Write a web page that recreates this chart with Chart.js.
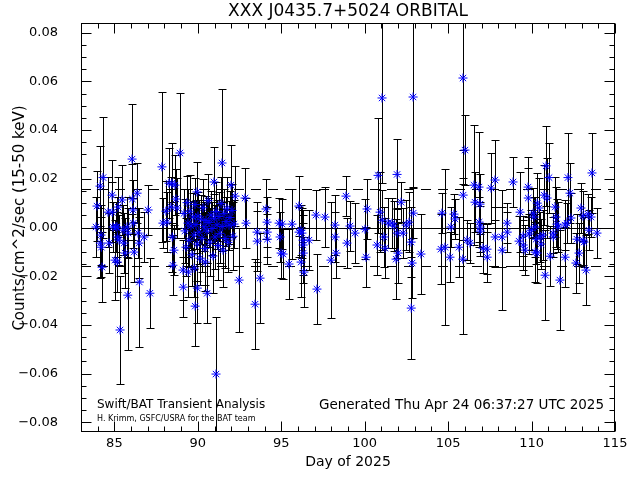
<!DOCTYPE html>
<html>
<head>
<meta charset="utf-8">
<title>XXX J0435.7+5024 ORBITAL</title>
<script src="https://cdn.jsdelivr.net/npm/chart.js@4.4.1/dist/chart.umd.min.js"></script>
<style>
  html, body { margin: 0; padding: 0; background: #fff; }
  #chart { display: block; }
</style>
</head>
<body>
<canvas id="chart" width="640" height="480"></canvas>
<script>
// ===== Swift/BAT orbital light curve =====

// Data (day of 2025, rate in counts/cm^2/sec, 1-sigma error)
const days = [
  83.90, 83.96, 84.14, 84.16, 84.20, 84.22, 84.26, 84.32, 84.62, 84.68,
  84.86, 84.88, 84.92, 85.04, 85.10, 85.16, 85.18, 85.17, 85.22, 85.28,
  85.34, 85.46, 85.52, 85.58, 85.64, 85.76, 85.82, 85.80, 86.06, 86.08,
  86.12, 86.14, 86.18, 86.36, 86.42, 86.48, 86.50, 86.78, 87.02, 87.13,
  87.85, 87.91, 88.09, 88.15, 88.27, 88.39, 88.45, 88.47, 88.51, 88.57,
  88.63, 88.69, 88.75, 88.93,
  89.11, 89.13, 89.17, 89.23, 89.29, 89.35, 89.41, 89.43, 89.47, 89.53,
  89.59, 89.65, 89.71, 89.77, 89.78, 89.83, 89.84, 89.89, 89.95, 89.96,
  89.97, 90.01, 90.07, 90.13, 90.19, 90.25, 90.31, 90.37, 90.43, 90.44,
  90.49, 90.55, 90.56, 90.61, 90.67, 90.73, 90.79, 90.85, 90.91, 90.97,
  90.98, 91.03, 91.09, 91.10, 91.15, 91.21, 91.27, 91.33, 91.39, 91.45,
  91.46, 91.51, 91.57, 91.63, 91.69, 91.75, 91.81, 91.87, 91.93, 91.99,
  92.05, 92.11, 92.17, 92.23, 92.47, 92.83, 92.89,
  93.43, 93.55, 93.56, 93.73, 94.09, 94.15, 94.16, 94.17, 94.87, 94.93,
  95.05, 94.99, 95.11, 95.46, 95.64, 96.06, 96.07, 96.18, 96.24, 96.30,
  96.31, 96.32, 96.19, 96.36, 96.66, 97.08, 97.14, 97.62, 97.98, 98.22,
  98.23, 98.28, 98.88, 98.94, 99.12, 99.42, 100.02, 100.14, 100.08, 100.74,
  100.80, 100.92, 101.04, 101.05, 101.16, 101.22, 101.40, 101.64, 101.76, 101.94,
  101.95, 101.88, 102.00, 102.18, 102.30, 102.48, 102.66, 102.78, 102.79, 102.84,
  102.90, 102.91, 103.37,
  104.57, 104.63, 104.81, 105.11, 105.17, 105.35, 105.41, 105.65, 105.89, 105.90,
  105.88, 106.01, 106.13, 106.31, 106.55, 106.61, 106.85, 106.91, 106.86, 106.92,
  106.93, 107.09, 107.33, 107.34, 107.57, 107.81, 107.82, 108.23, 108.24, 108.53,
  108.54, 108.89, 109.25, 109.31, 109.49, 109.50, 109.61, 109.79, 109.80, 109.85,
  109.97, 110.09, 110.15, 110.21, 110.27, 110.22, 110.33, 110.34, 110.45, 110.51,
  110.57, 110.69, 110.75, 110.87, 111.05, 110.93, 110.81, 111.11, 111.29, 111.30,
  111.41, 111.46, 111.52, 111.58, 111.70, 112.00, 112.01, 112.12, 112.18, 112.30,
  112.36, 112.66, 112.72, 112.84, 112.96, 113.08, 113.09, 113.14, 113.26, 113.38,
  113.44, 113.56, 113.62, 113.92
];
const rates = [
  0.0002, 0.0088, 0.0170, -0.0064, -0.0031, -0.0081, -0.0163, 0.0205, 0.0063, -0.0064,
  0.0133, 0.0063, 0.0002, -0.0134, 0.0002, 0.0002, -0.0039, -0.0142, 0.0084, -0.0052,
  -0.0421, 0.0113, -0.0011, -0.0064, -0.0105, 0.0002, -0.0023, -0.0278, 0.0281, 0.0117,
  0.0072, 0.0018, -0.0101, 0.0141, -0.0023, -0.0064, -0.0224, -0.0039, 0.0072, -0.0270,
  0.0249, 0.0018, 0.0067, 0.0022, 0.0182, 0.0084, 0.0182, -0.0039, -0.0155, -0.0093,
  0.0174, 0.0117, 0.0080, 0.0306,
  -0.0175, -0.0245, 0.0058, -0.0014, -0.0081, 0.0102, 0.0018, -0.0183, -0.0052, 0.0067,
  0.0006, -0.0112, 0.0043, -0.0031, -0.0167, 0.0094, -0.0323, 0.0012, 0.0146, -0.0068,
  -0.0249, 0.0047, -0.0019, -0.0126, 0.0034, -0.0044, 0.0081, 0.0003, -0.0086, -0.0142,
  0.0029, -0.0015, -0.0270, 0.0110, 0.0021, -0.0060, 0.0051, -0.0004, -0.0117, 0.0187,
  0.0036, -0.0039, -0.0602, 0.0066, 0.0011, -0.0074, 0.0045, -0.0024, 0.0098, 0.0265,
  0.0004, -0.0093, 0.0057, -0.0045, 0.0025, 0.0079, -0.0061, 0.0009, 0.0041, 0.0174,
  0.0070, -0.0036, 0.0014, 0.0129, -0.0216, 0.0121, 0.0018,
  -0.0315, -0.0019, -0.0056, -0.0208, 0.0076, 0.0022, -0.0019, -0.0048, 0.0018, -0.0039,
  0.0014, -0.0105, -0.0109, -0.0150, 0.0014, 0.0088, -0.0019, -0.0011, -0.0023, -0.0052,
  -0.0072, -0.0105, -0.0142, -0.0183, -0.0052, 0.0051, -0.0253, 0.0043, -0.0134, 0.0010,
  -0.0039, -0.0105, 0.0129, -0.0064, 0.0006, -0.0023, -0.0007, 0.0076, -0.0122, -0.0072,
  0.0214, 0.0063, 0.0532, 0.0030, -0.0039, -0.0085, 0.0018, 0.0018, 0.0006, 0.0218,
  -0.0023, -0.0130, -0.0105, 0.0104, -0.0023, 0.0010, 0.0022, -0.0060, -0.0331, -0.0146,
  0.0536, 0.0059, -0.0109,
  -0.0089, 0.0059, -0.0081, -0.0122, 0.0002, 0.0055, 0.0035, -0.0081, 0.0614, 0.0133,
  -0.0130, 0.0318, -0.0052, -0.0064, 0.0174, 0.0104, 0.0166, 0.0096, 0.0022, 0.0002,
  -0.0015, -0.0085, -0.0089, -0.0122, 0.0162, 0.0195, -0.0039, -0.0039, -0.0093, 0.0018,
  -0.0019, 0.0187, -0.0056, 0.0063, -0.0035, -0.0072, -0.0093, 0.0166, 0.0121, -0.0027,
  -0.0011, 0.0059, 0.0043, 0.0002, -0.0048, -0.0101, -0.0105, 0.0100, 0.0080, -0.0039,
  -0.0068, -0.0031, 0.0133, 0.0253, 0.0205, 0.0121, -0.0196, -0.0118, -0.0023, -0.0039,
  0.0084, 0.0043, 0.0014, 0.0002, -0.0216, 0.0010, -0.0122, 0.0018, 0.0205, 0.0141,
  0.0039, -0.0146, -0.0048, -0.0105, 0.0080, 0.0047, -0.0052, -0.0060, -0.0175, 0.0055,
  -0.0011, 0.0043, 0.0224, -0.0023
];
const errors = [
  0.0123, 0.0144, 0.0164, 0.0144, 0.0123, 0.0123, 0.0144, 0.0247, 0.0144, 0.0123,
  0.0144, 0.0123, 0.0103, 0.0164, 0.0103, 0.0123, 0.0103, 0.0123, 0.0123, 0.0103,
  0.0220, 0.0144, 0.0103, 0.0123, 0.0144, 0.0123, 0.0103, 0.0226, 0.0226, 0.0144,
  0.0123, 0.0103, 0.0123, 0.0123, 0.0103, 0.0144, 0.0267, 0.0103, 0.0103, 0.0144,
  0.0308, 0.0103, 0.0123, 0.0123, 0.0144, 0.0123, 0.0164, 0.0144, 0.0123, 0.0103,
  0.0123, 0.0123, 0.0123, 0.0247,
  0.0123, 0.0123, 0.0100, 0.0130, 0.0120, 0.0110, 0.0140, 0.0103, 0.0110, 0.0150,
  0.0100, 0.0130, 0.0100, 0.0140, 0.0120, 0.0110, 0.0164, 0.0100, 0.0123, 0.0150,
  0.0144, 0.0100, 0.0130, 0.0110, 0.0100, 0.0140, 0.0120, 0.0100, 0.0150, 0.0120,
  0.0100, 0.0130, 0.0123, 0.0110, 0.0100, 0.0140, 0.0100, 0.0110, 0.0150, 0.0144,
  0.0100, 0.0130, 0.0235, 0.0120, 0.0100, 0.0140, 0.0100, 0.0120, 0.0110, 0.0304,
  0.0100, 0.0150, 0.0100, 0.0120, 0.0100, 0.0130, 0.0120, 0.0100, 0.0110, 0.0164,
  0.0110, 0.0140, 0.0100, 0.0123, 0.0214, 0.0123, 0.0103,
  0.0185, 0.0123, 0.0123, 0.0185, 0.0123, 0.0103, 0.0103, 0.0103, 0.0103, 0.0103,
  0.0103, 0.0103, 0.0103, 0.0144, 0.0144, 0.0123, 0.0103, 0.0103, 0.0103, 0.0123,
  0.0123, 0.0123, 0.0144, 0.0144, 0.0123, 0.0103, 0.0144, 0.0123, 0.0238, 0.0123,
  0.0103, 0.0103, 0.0082, 0.0103, 0.0103, 0.0123, 0.0123, 0.0123, 0.0123, 0.0123,
  0.0235, 0.0164, 0.0349, 0.0123, 0.0123, 0.0123, 0.0103, 0.0103, 0.0103, 0.0144,
  0.0103, 0.0164, 0.0123, 0.0082, 0.0103, 0.0103, 0.0123, 0.0144, 0.0210, 0.0144,
  0.0370, 0.0103, 0.0164,
  0.0144, 0.0082, 0.0321, 0.0103, 0.0082, 0.0082, 0.0082, 0.0123, 0.0411, 0.0185,
  0.0308, 0.0144, 0.0082, 0.0082, 0.0247, 0.0123, 0.0226, 0.0123, 0.0103, 0.0103,
  0.0103, 0.0103, 0.0103, 0.0103, 0.0144, 0.0164, 0.0123, 0.0123, 0.0247, 0.0082,
  0.0082, 0.0103, 0.0103, 0.0164, 0.0082, 0.0103, 0.0103, 0.0123, 0.0123, 0.0082,
  0.0082, 0.0103, 0.0082, 0.0123, 0.0103, 0.0123, 0.0123, 0.0123, 0.0123, 0.0103,
  0.0103, 0.0103, 0.0123, 0.0164, 0.0144, 0.0164, 0.0185, 0.0123, 0.0082, 0.0082,
  0.0123, 0.0123, 0.0103, 0.0103, 0.0206, 0.0103, 0.0123, 0.0082, 0.0185, 0.0123,
  0.0103, 0.0123, 0.0103, 0.0123, 0.0103, 0.0103, 0.0103, 0.0103, 0.0144, 0.0082,
  0.0082, 0.0082, 0.0164, 0.0103
];

// Axis ticks and reference levels
const xMajorTicks = [85, 90, 95, 100, 105, 110, 115];
const yMajorTicks = [-0.08, -0.06, -0.04, -0.02, 0.00, 0.02, 0.04, 0.06, 0.08];
const meanLevel = 0.0;
const sigmaLevels = [0.016, -0.016];

const FONT = "'DejaVu Sans', sans-serif";

// Error bars, reference lines, frame with inward ticks, text
const idlPlot = {
  id: 'idlPlot',
  beforeDatasetsDraw(chart) {
    const { ctx, chartArea: a, scales: { x, y } } = chart;
    ctx.save();
    ctx.beginPath();
    ctx.rect(a.left, a.top, a.right - a.left, a.bottom - a.top);
    ctx.clip();

    // reference lines
    ctx.strokeStyle = '#000';
    ctx.lineWidth = 1;
    const y0 = Math.round(y.getPixelForValue(meanLevel)) + 0.5;
    ctx.beginPath(); ctx.moveTo(a.left, y0); ctx.lineTo(a.right, y0); ctx.stroke();
    ctx.setLineDash([10, 7]);
    sigmaLevels.forEach(v => {
      const yy = Math.round(y.getPixelForValue(v)) + 0.5;
      ctx.beginPath(); ctx.moveTo(a.left, yy); ctx.lineTo(a.right, yy); ctx.stroke();
    });
    ctx.setLineDash([]);

    // error bars
    ctx.beginPath();
    days.forEach((d, i) => {
      const px = Math.round(x.getPixelForValue(d)) + 0.5;
      const yt = Math.round(y.getPixelForValue(rates[i] + errors[i])) + 0.5;
      const yb = Math.round(y.getPixelForValue(rates[i] - errors[i])) + 0.5;
      ctx.moveTo(px, yt); ctx.lineTo(px, yb);
      ctx.moveTo(px - 4, yt); ctx.lineTo(px + 4, yt);
      ctx.moveTo(px - 4, yb); ctx.lineTo(px + 4, yb);
    });
    ctx.stroke();
    ctx.restore();
  },
  afterDraw(chart) {
    const { ctx, chartArea: a, scales: { x, y } } = chart;
    ctx.save();
    ctx.strokeStyle = '#000';
    ctx.lineWidth = 1;
    const L = a.left + 0.5, R = a.right - 0.5, T = a.top + 0.5, B = a.bottom - 0.5;
    ctx.strokeRect(L, T, R - L, B - T);

    ctx.beginPath();
    // x ticks: majors every 5 days, minors every day
    for (let d = 84; d <= 115; d++) {
      const px = Math.round(x.getPixelForValue(d)) + 0.5;
      const len = xMajorTicks.includes(d) ? 10 : 5;
      ctx.moveTo(px, B); ctx.lineTo(px, B - len);
      ctx.moveTo(px, T); ctx.lineTo(px, T + len);
    }
    // y ticks: majors every 0.02, minors every 0.005
    for (let k = -16; k <= 16; k++) {
      const v = k * 0.005;
      const py = Math.round(y.getPixelForValue(v)) + 0.5;
      const len = k % 4 === 0 ? 10 : 5;
      ctx.moveTo(L, py); ctx.lineTo(L + len, py);
      ctx.moveTo(R, py); ctx.lineTo(R - len, py);
    }
    ctx.stroke();

    // texts
    ctx.fillStyle = '#000';
    ctx.textBaseline = 'middle';
    ctx.textAlign = 'center';
    ctx.font = '17px ' + FONT;
    ctx.fillText('XXX J0435.7+5024 ORBITAL', (a.left + a.right) / 2, 12);
    ctx.font = '14px ' + FONT;
    ctx.fillText('Day of 2025', (a.left + a.right) / 2, 462);

    ctx.save();
    ctx.translate(20, 218);
    ctx.rotate(-Math.PI / 2);
    ctx.font = '15px ' + FONT;
    ctx.fillText('Counts/cm^2/sec (15-50 keV)', 0, 0);
    ctx.restore();

    ctx.textAlign = 'left';
    ctx.font = '12px ' + FONT;
    ctx.fillText('Swift/BAT Transient Analysis', 97, 405);
    ctx.textAlign = 'right';
    ctx.font = '13.5px ' + FONT;
    ctx.fillText('Generated Thu Apr 24 06:37:27 UTC 2025', 604, 405);
    ctx.textAlign = 'left';
    ctx.font = '8px ' + FONT;
    ctx.fillText('H. Krimm, GSFC/USRA for the BAT team', 97, 419);
    ctx.restore();
  }
};

const ctx = document.getElementById('chart').getContext('2d');
const chart = new Chart(ctx, {
  type: 'scatter',
  data: {
    datasets: [{
      data: days.map((d, i) => ({ x: d, y: rates[i] })),
      pointStyle: 'star',
      radius: 4.5,
      borderWidth: 1,
      borderColor: '#0000ff',
      backgroundColor: '#0000ff'
    }]
  },
  options: {
    responsive: false,
    animation: false,
    devicePixelRatio: 1,
    layout: { padding: { top: 23, right: 25, left: 0, bottom: 0 } },
    plugins: { legend: { display: false }, tooltip: { enabled: false } },
    scales: {
      x: {
        type: 'linear',
        min: 83, max: 115,
        afterBuildTicks: s => { s.ticks = xMajorTicks.map(v => ({ value: v })); },
        afterFit: s => { s.height = 48; s.paddingLeft = 0; s.paddingRight = 0; },
        grid: { display: false, drawTicks: false },
        border: { display: false },
        ticks: { color: '#000', padding: 4, font: { family: FONT, size: 13 }, maxRotation: 0 }
      },
      y: {
        type: 'linear',
        min: -0.084, max: 0.084,
        afterBuildTicks: s => { s.ticks = yMajorTicks.map(v => ({ value: v })); },
        afterFit: s => { s.width = 81; s.paddingTop = 0; s.paddingBottom = 0; },
        grid: { display: false, drawTicks: false },
        border: { display: false },
        ticks: {
          color: '#000', padding: 23, font: { family: FONT, size: 13 },
          callback: v => v.toFixed(2).replace('-', '\u2212')
        }
      }
    }
  },
  plugins: [idlPlot]
});
</script>
</body>
</html>
